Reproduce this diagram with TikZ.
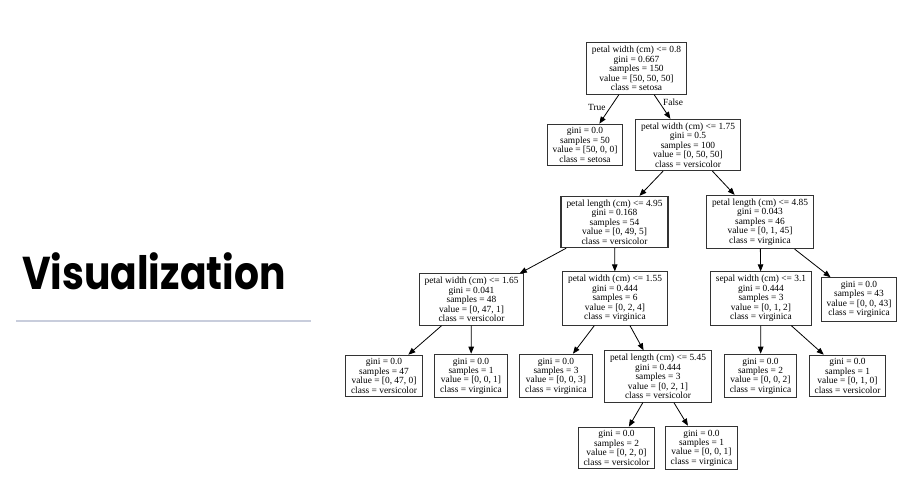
\documentclass[tikz,border=0pt]{standalone}
\usepackage{fontspec}
\setmainfont{Liberation Serif}
\newfontfamily\titlefont{Poppins Bold}
\usetikzlibrary{arrows.meta}
\definecolor{rulecol}{RGB}{200,205,220}
\tikzset{
  tnode/.style={draw=black!80, line width=1.1pt, fill=white, align=center,
    inner xsep=5.5pt, inner ysep=3.5pt,
    font=\fontsize{9.4}{9.4}\selectfont},
  edge/.style={draw=black, line width=0.8pt, -{Triangle[length=7pt,width=5.5pt]}},
  elabel/.style={font=\fontsize{9.4}{9.4}\selectfont, inner sep=0pt}
}
\begin{document}
\begin{tikzpicture}[x=1pt,y=-1pt]
\useasboundingbox (0,0) rectangle (903,481);
\node[anchor=base west, inner sep=0pt] (title) at (22,290) {\scalebox{0.853}[1]{\titlefont\fontsize{46}{46}\selectfont Visualization}};
\coordinate (ruleL) at (16,321);
\coordinate (ruleR) at (311,321);
\draw[rulecol, line width=1.3pt] (ruleL) -- (ruleR);

\node[tnode] (root) at (636.5,68.5) {petal width (cm) <= 0.8\\gini = 0.667\\samples = 150\\value = [50, 50, 50]\\class = setosa};
\node[tnode] (setosa) at (585,145) {gini = 0.0\\samples = 50\\value = [50, 0, 0]\\class = setosa};
\node[tnode] (pw175) at (688,145) {petal width (cm) <= 1.75\\gini = 0.5\\samples = 100\\value = [0, 50, 50]\\class = versicolor};
\node[tnode] (pl495) at (614.5,222) {petal length (cm) <= 4.95\\gini = 0.168\\samples = 54\\value = [0, 49, 5]\\class = versicolor};
\node[tnode] (pl485) at (760,222) {petal length (cm) <= 4.85\\gini = 0.043\\samples = 46\\value = [0, 1, 45]\\class = virginica};
\node[tnode] (pw165) at (471.5,299.5) {petal width (cm) <= 1.65\\gini = 0.041\\samples = 48\\value = [0, 47, 1]\\class = versicolor};
\node[tnode] (pw155) at (615,298.5) {petal width (cm) <= 1.55\\gini = 0.444\\samples = 6\\value = [0, 2, 4]\\class = virginica};
\node[tnode] (sw31) at (761,298.5) {sepal width (cm) <= 3.1\\gini = 0.444\\samples = 3\\value = [0, 1, 2]\\class = virginica};
\node[tnode] (l43) at (859,299.5) {gini = 0.0\\samples = 43\\value = [0, 0, 43]\\class = virginica};
\node[tnode] (l47) at (384,376) {gini = 0.0\\samples = 47\\value = [0, 47, 0]\\class = versicolor};
\node[tnode] (l001a) at (471,376) {gini = 0.0\\samples = 1\\value = [0, 0, 1]\\class = virginica};
\node[tnode] (l003) at (556,376) {gini = 0.0\\samples = 3\\value = [0, 0, 3]\\class = virginica};
\node[tnode] (pl545) at (658,376.5) {petal length (cm) <= 5.45\\gini = 0.444\\samples = 3\\value = [0, 2, 1]\\class = versicolor};
\node[tnode] (l002) at (760.5,376) {gini = 0.0\\samples = 2\\value = [0, 0, 2]\\class = virginica};
\node[tnode] (l010) at (847.5,376) {gini = 0.0\\samples = 1\\value = [0, 1, 0]\\class = versicolor};
\node[tnode] (l020) at (616.5,448) {gini = 0.0\\samples = 2\\value = [0, 2, 0]\\class = versicolor};
\node[tnode] (l001b) at (701.5,448) {gini = 0.0\\samples = 1\\value = [0, 0, 1]\\class = virginica};

\draw[edge] (root) -- (setosa);
\draw[edge] (root) -- (pw175);
\draw[edge] (pw175) -- (pl495);
\draw[edge] (pw175) -- (pl485);
\draw[edge] (pl495) -- (pw165);
\draw[edge] (pl495) -- (pw155);
\draw[edge] (pl485) -- (sw31);
\draw[edge] (pl485) -- (l43);
\draw[edge] (pw165) -- (l47);
\draw[edge] (pw165) -- (l001a);
\draw[edge] (pw155) -- (l003);
\draw[edge] (pw155) -- (pl545);
\draw[edge] (sw31) -- (l002);
\draw[edge] (sw31) -- (l010);
\draw[edge] (pl545) -- (l020);
\draw[edge] (pl545) -- (l001b);

\node[elabel, anchor=base west] (tlab) at (588,111) {True};
\node[elabel, anchor=base west] (flab) at (663,106) {False};
\end{tikzpicture}
\end{document}
